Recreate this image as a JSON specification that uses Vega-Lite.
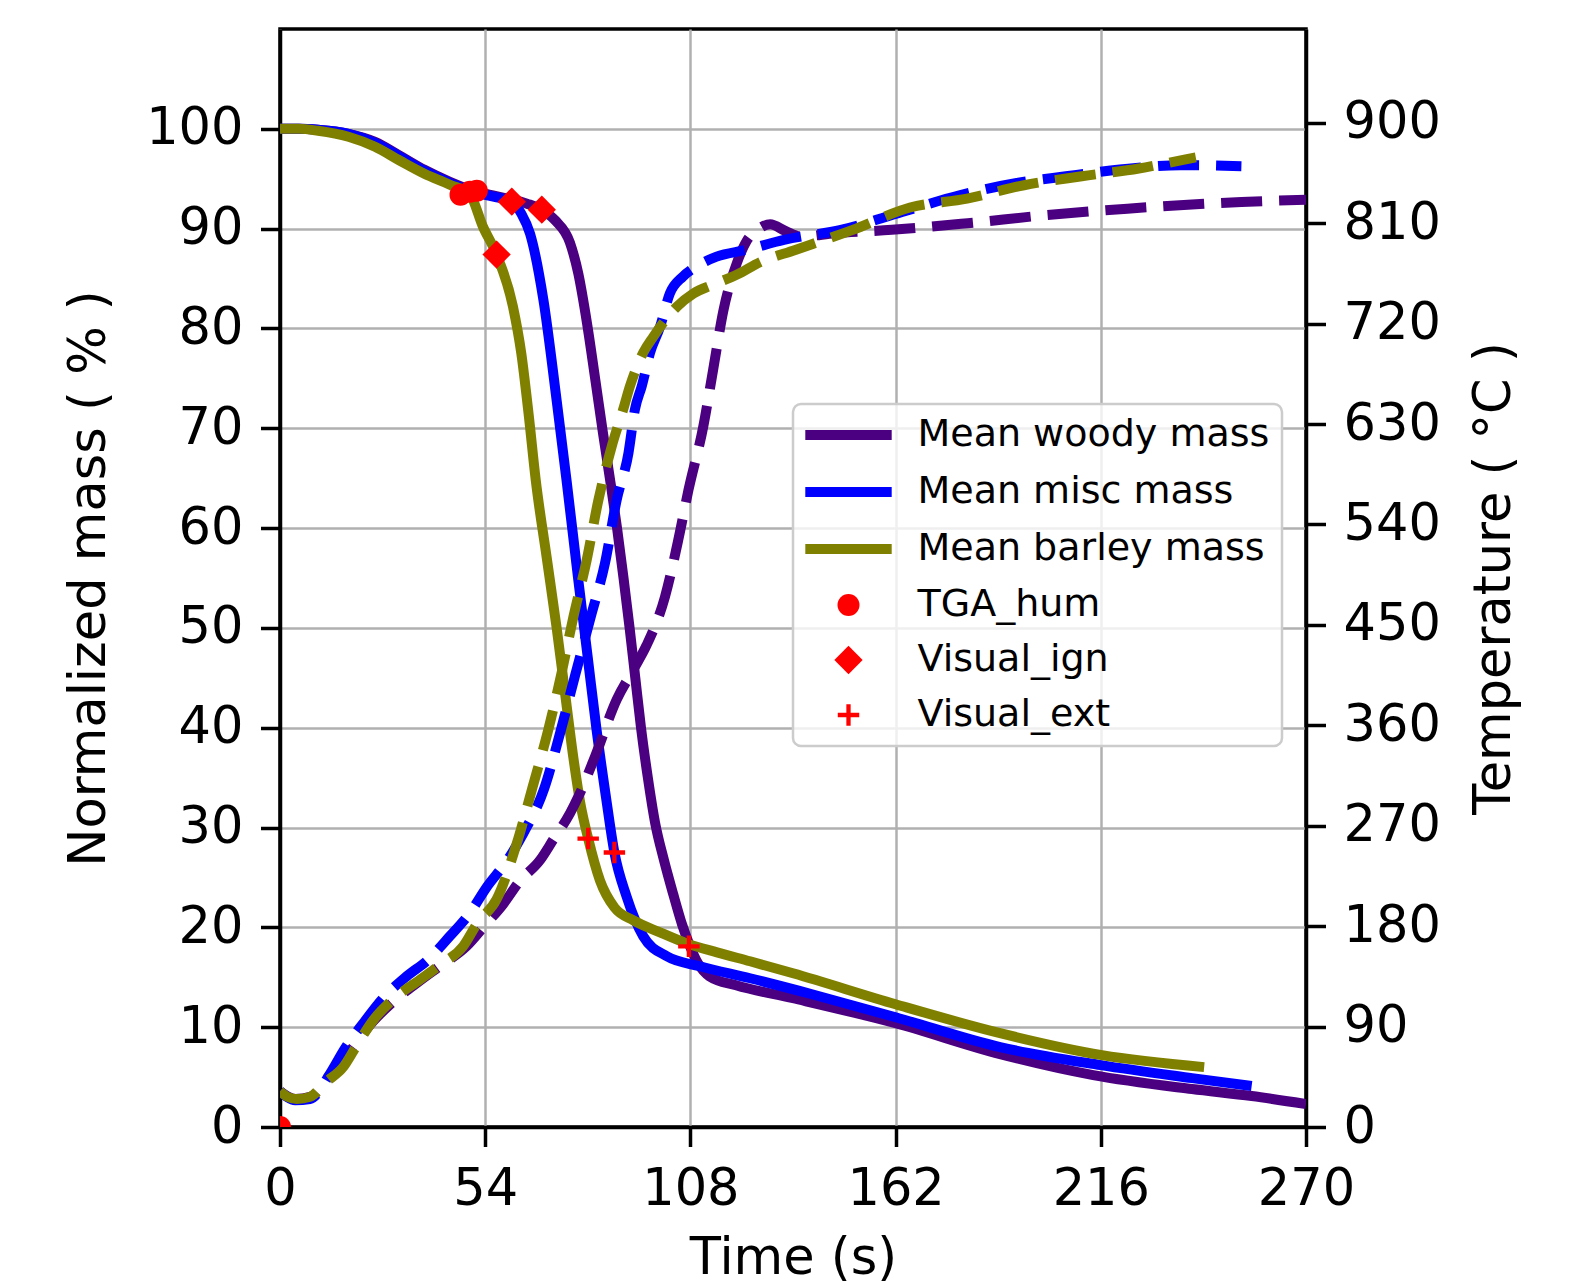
{
  "$schema": "https://vega.github.io/schema/vega-lite/v6.json",
  "width": 1026,
  "height": 1098,
  "autosize": {"type": "none"},
  "padding": {"left": 280, "top": 29, "right": 264, "bottom": 158},
  "background": "white",
  "config": {
    "font": "DejaVu Sans",
    "view": {"stroke": "black", "strokeWidth": 3.5},
    "legend": {"strokeWidth": 2.5},
    "axis": {
      "labelFont": "DejaVu Sans", "titleFont": "DejaVu Sans",
      "labelFontSize": 51, "titleFontSize": 51,
      "labelColor": "black", "titleColor": "black", "titleFontWeight": "normal",
      "tickColor": "black", "tickWidth": 3.5, "tickSize": 19.5,
      "domainColor": "black", "domainWidth": 3.5,
      "gridColor": "#b0b0b0", "gridWidth": 2.5,
      "labelPadding": 17.5, "labelFlush": false, "labelOverlap": false
    }
  },
  "datasets": {
    "mass": [
      {"series": "Mean woody mass", "t": 0, "m": 100},
      {"series": "Mean woody mass", "t": 5, "m": 100},
      {"series": "Mean woody mass", "t": 10, "m": 99.9},
      {"series": "Mean woody mass", "t": 18, "m": 99.5},
      {"series": "Mean woody mass", "t": 25, "m": 98.7},
      {"series": "Mean woody mass", "t": 31.6, "m": 97.3},
      {"series": "Mean woody mass", "t": 38, "m": 95.9},
      {"series": "Mean woody mass", "t": 44.7, "m": 94.7},
      {"series": "Mean woody mass", "t": 50, "m": 93.9},
      {"series": "Mean woody mass", "t": 55, "m": 93.4},
      {"series": "Mean woody mass", "t": 60, "m": 93.0},
      {"series": "Mean woody mass", "t": 65, "m": 92.5},
      {"series": "Mean woody mass", "t": 68.9, "m": 91.9},
      {"series": "Mean woody mass", "t": 72.5, "m": 90.8},
      {"series": "Mean woody mass", "t": 76.3, "m": 88.6},
      {"series": "Mean woody mass", "t": 78.5, "m": 85.5},
      {"series": "Mean woody mass", "t": 80.8, "m": 80.5},
      {"series": "Mean woody mass", "t": 83, "m": 74.8},
      {"series": "Mean woody mass", "t": 85, "m": 69.5},
      {"series": "Mean woody mass", "t": 87, "m": 64.5},
      {"series": "Mean woody mass", "t": 88.7, "m": 60.0},
      {"series": "Mean woody mass", "t": 90.4, "m": 55.0},
      {"series": "Mean woody mass", "t": 92, "m": 50.0},
      {"series": "Mean woody mass", "t": 93.5, "m": 45.0},
      {"series": "Mean woody mass", "t": 95, "m": 40.0},
      {"series": "Mean woody mass", "t": 96.8, "m": 35.0},
      {"series": "Mean woody mass", "t": 98.7, "m": 30.5},
      {"series": "Mean woody mass", "t": 101, "m": 26.8},
      {"series": "Mean woody mass", "t": 103.5, "m": 23.3},
      {"series": "Mean woody mass", "t": 105.8, "m": 20.3},
      {"series": "Mean woody mass", "t": 107.8, "m": 18.2},
      {"series": "Mean woody mass", "t": 110, "m": 16.4},
      {"series": "Mean woody mass", "t": 113, "m": 15.1},
      {"series": "Mean woody mass", "t": 120, "m": 14.2},
      {"series": "Mean woody mass", "t": 135, "m": 12.9},
      {"series": "Mean woody mass", "t": 162, "m": 10.4},
      {"series": "Mean woody mass", "t": 189.5, "m": 7.3},
      {"series": "Mean woody mass", "t": 214, "m": 5.2},
      {"series": "Mean woody mass", "t": 240, "m": 3.8},
      {"series": "Mean woody mass", "t": 255.7, "m": 3.1},
      {"series": "Mean woody mass", "t": 270, "m": 2.3},
      {"series": "Mean misc mass", "t": 0, "m": 100},
      {"series": "Mean misc mass", "t": 5, "m": 100},
      {"series": "Mean misc mass", "t": 10, "m": 99.9},
      {"series": "Mean misc mass", "t": 18, "m": 99.5},
      {"series": "Mean misc mass", "t": 25, "m": 98.6},
      {"series": "Mean misc mass", "t": 31.6, "m": 97.2},
      {"series": "Mean misc mass", "t": 38, "m": 95.8},
      {"series": "Mean misc mass", "t": 44.7, "m": 94.6},
      {"series": "Mean misc mass", "t": 50, "m": 93.8},
      {"series": "Mean misc mass", "t": 55, "m": 93.3},
      {"series": "Mean misc mass", "t": 61, "m": 92.7},
      {"series": "Mean misc mass", "t": 63.5, "m": 91.5},
      {"series": "Mean misc mass", "t": 65.8, "m": 89.5},
      {"series": "Mean misc mass", "t": 69.3, "m": 82.9},
      {"series": "Mean misc mass", "t": 72.8, "m": 72.8},
      {"series": "Mean misc mass", "t": 75.4, "m": 64.8},
      {"series": "Mean misc mass", "t": 78.5, "m": 54.8},
      {"series": "Mean misc mass", "t": 81, "m": 47.0},
      {"series": "Mean misc mass", "t": 83.3, "m": 39.8},
      {"series": "Mean misc mass", "t": 85.8, "m": 33.0},
      {"series": "Mean misc mass", "t": 88, "m": 27.5},
      {"series": "Mean misc mass", "t": 91.2, "m": 23.1},
      {"series": "Mean misc mass", "t": 95.6, "m": 19.1},
      {"series": "Mean misc mass", "t": 101.8, "m": 17.1},
      {"series": "Mean misc mass", "t": 110.5, "m": 16.1},
      {"series": "Mean misc mass", "t": 123.7, "m": 14.9},
      {"series": "Mean misc mass", "t": 140, "m": 13.3},
      {"series": "Mean misc mass", "t": 162, "m": 11.0},
      {"series": "Mean misc mass", "t": 189.5, "m": 8.0},
      {"series": "Mean misc mass", "t": 216, "m": 6.2},
      {"series": "Mean misc mass", "t": 240, "m": 4.9},
      {"series": "Mean misc mass", "t": 255.7, "m": 4.1},
      {"series": "Mean barley mass", "t": 0, "m": 100},
      {"series": "Mean barley mass", "t": 5, "m": 100},
      {"series": "Mean barley mass", "t": 10, "m": 99.8},
      {"series": "Mean barley mass", "t": 18, "m": 99.2},
      {"series": "Mean barley mass", "t": 25, "m": 98.2},
      {"series": "Mean barley mass", "t": 31.6, "m": 96.8},
      {"series": "Mean barley mass", "t": 38, "m": 95.5},
      {"series": "Mean barley mass", "t": 44.7, "m": 94.4},
      {"series": "Mean barley mass", "t": 50, "m": 93.4},
      {"series": "Mean barley mass", "t": 53.4, "m": 90.2},
      {"series": "Mean barley mass", "t": 57, "m": 87.4},
      {"series": "Mean barley mass", "t": 61.3, "m": 82.2},
      {"series": "Mean barley mass", "t": 63.5, "m": 77.5},
      {"series": "Mean barley mass", "t": 65.4, "m": 71.5},
      {"series": "Mean barley mass", "t": 67.3, "m": 64.8},
      {"series": "Mean barley mass", "t": 70.2, "m": 57.0},
      {"series": "Mean barley mass", "t": 72.8, "m": 50.0},
      {"series": "Mean barley mass", "t": 75, "m": 43.5},
      {"series": "Mean barley mass", "t": 77.2, "m": 37.0},
      {"series": "Mean barley mass", "t": 79, "m": 32.5},
      {"series": "Mean barley mass", "t": 81.1, "m": 28.9},
      {"series": "Mean barley mass", "t": 84.2, "m": 24.7},
      {"series": "Mean barley mass", "t": 88, "m": 22.0},
      {"series": "Mean barley mass", "t": 93, "m": 20.7},
      {"series": "Mean barley mass", "t": 100, "m": 19.5},
      {"series": "Mean barley mass", "t": 107, "m": 18.4},
      {"series": "Mean barley mass", "t": 115, "m": 17.5},
      {"series": "Mean barley mass", "t": 123.7, "m": 16.6},
      {"series": "Mean barley mass", "t": 135, "m": 15.4},
      {"series": "Mean barley mass", "t": 162, "m": 12.3},
      {"series": "Mean barley mass", "t": 189.5, "m": 9.4},
      {"series": "Mean barley mass", "t": 216.3, "m": 7.2},
      {"series": "Mean barley mass", "t": 243.2, "m": 6.0}
    ],
    "temp": [
      {"series": "Mean woody mass", "t": 0, "T": 32},
      {"series": "Mean woody mass", "t": 4, "T": 25},
      {"series": "Mean woody mass", "t": 8, "T": 27},
      {"series": "Mean woody mass", "t": 13, "T": 46},
      {"series": "Mean woody mass", "t": 17, "T": 62},
      {"series": "Mean woody mass", "t": 24.6, "T": 95},
      {"series": "Mean woody mass", "t": 30, "T": 113},
      {"series": "Mean woody mass", "t": 36.8, "T": 131},
      {"series": "Mean woody mass", "t": 42, "T": 144},
      {"series": "Mean woody mass", "t": 49.1, "T": 162},
      {"series": "Mean woody mass", "t": 54, "T": 181},
      {"series": "Mean woody mass", "t": 58.8, "T": 200},
      {"series": "Mean woody mass", "t": 63, "T": 220},
      {"series": "Mean woody mass", "t": 68.4, "T": 239},
      {"series": "Mean woody mass", "t": 72, "T": 258},
      {"series": "Mean woody mass", "t": 76.3, "T": 281},
      {"series": "Mean woody mass", "t": 78.5, "T": 296},
      {"series": "Mean woody mass", "t": 82.9, "T": 332},
      {"series": "Mean woody mass", "t": 88.6, "T": 383},
      {"series": "Mean woody mass", "t": 93, "T": 410},
      {"series": "Mean woody mass", "t": 96.5, "T": 432},
      {"series": "Mean woody mass", "t": 101.3, "T": 475},
      {"series": "Mean woody mass", "t": 104.8, "T": 526},
      {"series": "Mean woody mass", "t": 107.5, "T": 571},
      {"series": "Mean woody mass", "t": 111.4, "T": 628},
      {"series": "Mean woody mass", "t": 114, "T": 679},
      {"series": "Mean woody mass", "t": 116.7, "T": 732},
      {"series": "Mean woody mass", "t": 120.2, "T": 774},
      {"series": "Mean woody mass", "t": 122.8, "T": 794},
      {"series": "Mean woody mass", "t": 126, "T": 805},
      {"series": "Mean woody mass", "t": 129, "T": 809},
      {"series": "Mean woody mass", "t": 133, "T": 803},
      {"series": "Mean woody mass", "t": 137, "T": 798},
      {"series": "Mean woody mass", "t": 146, "T": 801},
      {"series": "Mean woody mass", "t": 161, "T": 804},
      {"series": "Mean woody mass", "t": 181, "T": 810},
      {"series": "Mean woody mass", "t": 201, "T": 817},
      {"series": "Mean woody mass", "t": 223, "T": 823},
      {"series": "Mean woody mass", "t": 253, "T": 829},
      {"series": "Mean woody mass", "t": 270, "T": 831},
      {"series": "Mean misc mass", "t": 0, "T": 32},
      {"series": "Mean misc mass", "t": 4, "T": 24},
      {"series": "Mean misc mass", "t": 7.9, "T": 25},
      {"series": "Mean misc mass", "t": 13.2, "T": 48},
      {"series": "Mean misc mass", "t": 17, "T": 70},
      {"series": "Mean misc mass", "t": 21.9, "T": 93},
      {"series": "Mean misc mass", "t": 27, "T": 115},
      {"series": "Mean misc mass", "t": 33.3, "T": 135},
      {"series": "Mean misc mass", "t": 39, "T": 150},
      {"series": "Mean misc mass", "t": 44.7, "T": 171},
      {"series": "Mean misc mass", "t": 50, "T": 192},
      {"series": "Mean misc mass", "t": 54.4, "T": 215},
      {"series": "Mean misc mass", "t": 60, "T": 240},
      {"series": "Mean misc mass", "t": 64, "T": 263},
      {"series": "Mean misc mass", "t": 69.5, "T": 303},
      {"series": "Mean misc mass", "t": 73.7, "T": 353},
      {"series": "Mean misc mass", "t": 77.6, "T": 404},
      {"series": "Mean misc mass", "t": 82, "T": 460},
      {"series": "Mean misc mass", "t": 85.5, "T": 505},
      {"series": "Mean misc mass", "t": 88.6, "T": 562},
      {"series": "Mean misc mass", "t": 91.7, "T": 604},
      {"series": "Mean misc mass", "t": 93.4, "T": 643},
      {"series": "Mean misc mass", "t": 95.2, "T": 664},
      {"series": "Mean misc mass", "t": 97.4, "T": 694},
      {"series": "Mean misc mass", "t": 100, "T": 717},
      {"series": "Mean misc mass", "t": 102.6, "T": 747},
      {"series": "Mean misc mass", "t": 106, "T": 762},
      {"series": "Mean misc mass", "t": 110, "T": 772},
      {"series": "Mean misc mass", "t": 114.9, "T": 780},
      {"series": "Mean misc mass", "t": 122.6, "T": 786},
      {"series": "Mean misc mass", "t": 132.6, "T": 795},
      {"series": "Mean misc mass", "t": 147.6, "T": 804},
      {"series": "Mean misc mass", "t": 163.7, "T": 820},
      {"series": "Mean misc mass", "t": 178.8, "T": 835},
      {"series": "Mean misc mass", "t": 193.9, "T": 846},
      {"series": "Mean misc mass", "t": 206.8, "T": 852},
      {"series": "Mean misc mass", "t": 221, "T": 858},
      {"series": "Mean misc mass", "t": 237, "T": 862},
      {"series": "Mean misc mass", "t": 253, "T": 861},
      {"series": "Mean barley mass", "t": 0, "T": 32},
      {"series": "Mean barley mass", "t": 2, "T": 27},
      {"series": "Mean barley mass", "t": 4.4, "T": 25},
      {"series": "Mean barley mass", "t": 7.9, "T": 27},
      {"series": "Mean barley mass", "t": 12, "T": 40},
      {"series": "Mean barley mass", "t": 16.7, "T": 54},
      {"series": "Mean barley mass", "t": 20, "T": 72},
      {"series": "Mean barley mass", "t": 24.6, "T": 96},
      {"series": "Mean barley mass", "t": 30, "T": 115},
      {"series": "Mean barley mass", "t": 36.8, "T": 132},
      {"series": "Mean barley mass", "t": 42, "T": 145},
      {"series": "Mean barley mass", "t": 48.2, "T": 162},
      {"series": "Mean barley mass", "t": 52, "T": 183},
      {"series": "Mean barley mass", "t": 57, "T": 204},
      {"series": "Mean barley mass", "t": 62.3, "T": 254},
      {"series": "Mean barley mass", "t": 66.5, "T": 305},
      {"series": "Mean barley mass", "t": 70.6, "T": 356},
      {"series": "Mean barley mass", "t": 74.1, "T": 407},
      {"series": "Mean barley mass", "t": 77.2, "T": 457},
      {"series": "Mean barley mass", "t": 80.7, "T": 508},
      {"series": "Mean barley mass", "t": 83.8, "T": 562},
      {"series": "Mean barley mass", "t": 87.3, "T": 610},
      {"series": "Mean barley mass", "t": 90.3, "T": 643},
      {"series": "Mean barley mass", "t": 92.1, "T": 664},
      {"series": "Mean barley mass", "t": 95.6, "T": 694},
      {"series": "Mean barley mass", "t": 98.2, "T": 708},
      {"series": "Mean barley mass", "t": 104.4, "T": 735},
      {"series": "Mean barley mass", "t": 108.8, "T": 747},
      {"series": "Mean barley mass", "t": 114, "T": 755},
      {"series": "Mean barley mass", "t": 120.3, "T": 764},
      {"series": "Mean barley mass", "t": 126.3, "T": 775},
      {"series": "Mean barley mass", "t": 135.6, "T": 786},
      {"series": "Mean barley mass", "t": 150.7, "T": 804},
      {"series": "Mean barley mass", "t": 165.8, "T": 824},
      {"series": "Mean barley mass", "t": 180.8, "T": 832},
      {"series": "Mean barley mass", "t": 195.8, "T": 844},
      {"series": "Mean barley mass", "t": 211, "T": 852},
      {"series": "Mean barley mass", "t": 226, "T": 859},
      {"series": "Mean barley mass", "t": 238, "T": 867},
      {"series": "Mean barley mass", "t": 241, "T": 869}
    ],
    "points": [
      {"series": "TGA_hum", "t": 0, "m": 0},
      {"series": "TGA_hum", "t": 47.5, "m": 93.4},
      {"series": "TGA_hum", "t": 50, "m": 93.7},
      {"series": "TGA_hum", "t": 51.8, "m": 93.8},
      {"series": "Visual_ign", "t": 57, "m": 87.4},
      {"series": "Visual_ign", "t": 61, "m": 92.7},
      {"series": "Visual_ign", "t": 68.9, "m": 91.9},
      {"series": "Visual_ext", "t": 81.1, "m": 28.9},
      {"series": "Visual_ext", "t": 88, "m": 27.5},
      {"series": "Visual_ext", "t": 107.6, "m": 18.1}
    ]
  },
  "encoding": {
    "x": {
      "field": "t", "type": "quantitative",
      "scale": {"domain": [0, 270], "nice": false, "zero": false},
      "axis": {"values": [0, 54, 108, 162, 216, 270], "title": "Time (s)", "grid": true, "titlePadding": 19}
    }
  },
  "layer": [
    {
      "layer": [
        {
          "data": {"name": "mass"},
          "mark": {"type": "line", "strokeWidth": 10, "interpolate": "monotone", "clip": true},
          "encoding": {
            "y": {
              "field": "m", "type": "quantitative",
              "scale": {"domain": [0, 110], "nice": false, "zero": false},
              "axis": {"values": [0, 10, 20, 30, 40, 50, 60, 70, 80, 90, 100], "title": "Normalized mass ( % )", "grid": true, "titlePadding": 30}
            },
            "color": {
              "field": "series", "type": "nominal",
              "scale": {
                "domain": ["Mean woody mass", "Mean misc mass", "Mean barley mass", "TGA_hum", "Visual_ign", "Visual_ext"],
                "range": ["#4B0082", "#0000FF", "#808000", "#FF0000", "#FF0000", "#FF0000"]
              },
              "legend": {
                "orient": "none", "legendX": 513, "legendY": 375,
                "title": null,
                "labelFont": "DejaVu Sans", "labelFontSize": 38, "labelColor": "black",
                "labelLimit": 1000,
                "labelOffset": 50, "symbolOffset": 24.5, "rowPadding": 17, "padding": 12,
                "strokeColor": "#cccccc", "cornerRadius": 8,
                "fillColor": "rgba(255,255,255,0.8)", "symbolLimit": 0,
                "encode": {
                  "symbols": {
                    "update": {
                      "fill": {"scale": "color", "field": "value"},
                      "stroke": {"scale": "color", "field": "value"},
                      "opacity": {"value": 1}
                    }
                  }
                }
              }
            }
          }
        },
        {
          "data": {"name": "points"},
          "mark": {"type": "point", "filled": true, "opacity": 1, "clip": true},
          "encoding": {
            "y": {"field": "m", "type": "quantitative"},
            "color": {
              "field": "series", "type": "nominal",
              "scale": {
                "domain": ["Mean woody mass", "Mean misc mass", "Mean barley mass", "TGA_hum", "Visual_ign", "Visual_ext"],
                "range": ["#4B0082", "#0000FF", "#808000", "#FF0000", "#FF0000", "#FF0000"]
              }
            },
            "shape": {
              "field": "series", "type": "nominal",
              "scale": {
                "type": "ordinal",
                "domain": ["Mean woody mass", "Mean misc mass", "Mean barley mass", "TGA_hum", "Visual_ign", "Visual_ext"],
                "range": ["M-3.2,0H3.2", "M-3.2,0H3.2", "M-3.2,0H3.2", "circle", "diamond", "M-1,-0.2H-0.2V-1H0.2V-0.2H1V0.2H0.2V1H-0.2V0.2H-1Z"]
              }
            },
            "size": {
              "field": "series", "type": "nominal",
              "scale": {
                "type": "ordinal",
                "domain": ["Mean woody mass", "Mean misc mass", "Mean barley mass", "TGA_hum", "Visual_ign", "Visual_ext"],
                "range": [729, 729, 729, 484, 800, 460]
              }
            },
            "strokeWidth": {
              "field": "series", "type": "nominal",
              "scale": {
                "type": "ordinal",
                "domain": ["Mean woody mass", "Mean misc mass", "Mean barley mass", "TGA_hum", "Visual_ign", "Visual_ext"],
                "range": [10, 10, 10, 0, 0, 0]
              }
            }
          }
        }
      ]
    },
    {
      "data": {"name": "temp"},
      "mark": {"type": "line", "strokeWidth": 10, "strokeDash": [41, 17], "interpolate": "monotone", "clip": true},
      "encoding": {
        "y": {
          "field": "T", "type": "quantitative",
          "scale": {"domain": [0, 984], "nice": false, "zero": false},
          "axis": {"orient": "right", "values": [0, 90, 180, 270, 360, 450, 540, 630, 720, 810, 900], "title": "Temperature ( °C )", "grid": false, "titleAngle": 270, "titleBaseline": "top", "titlePadding": 29}
        },
        "color": {
          "field": "series", "type": "nominal",
          "scale": {
            "domain": ["Mean woody mass", "Mean misc mass", "Mean barley mass", "TGA_hum", "Visual_ign", "Visual_ext"],
            "range": ["#4B0082", "#0000FF", "#808000", "#FF0000", "#FF0000", "#FF0000"]
          }
        }
      }
    }
  ],
  "resolve": {"scale": {"y": "independent"}}
}
